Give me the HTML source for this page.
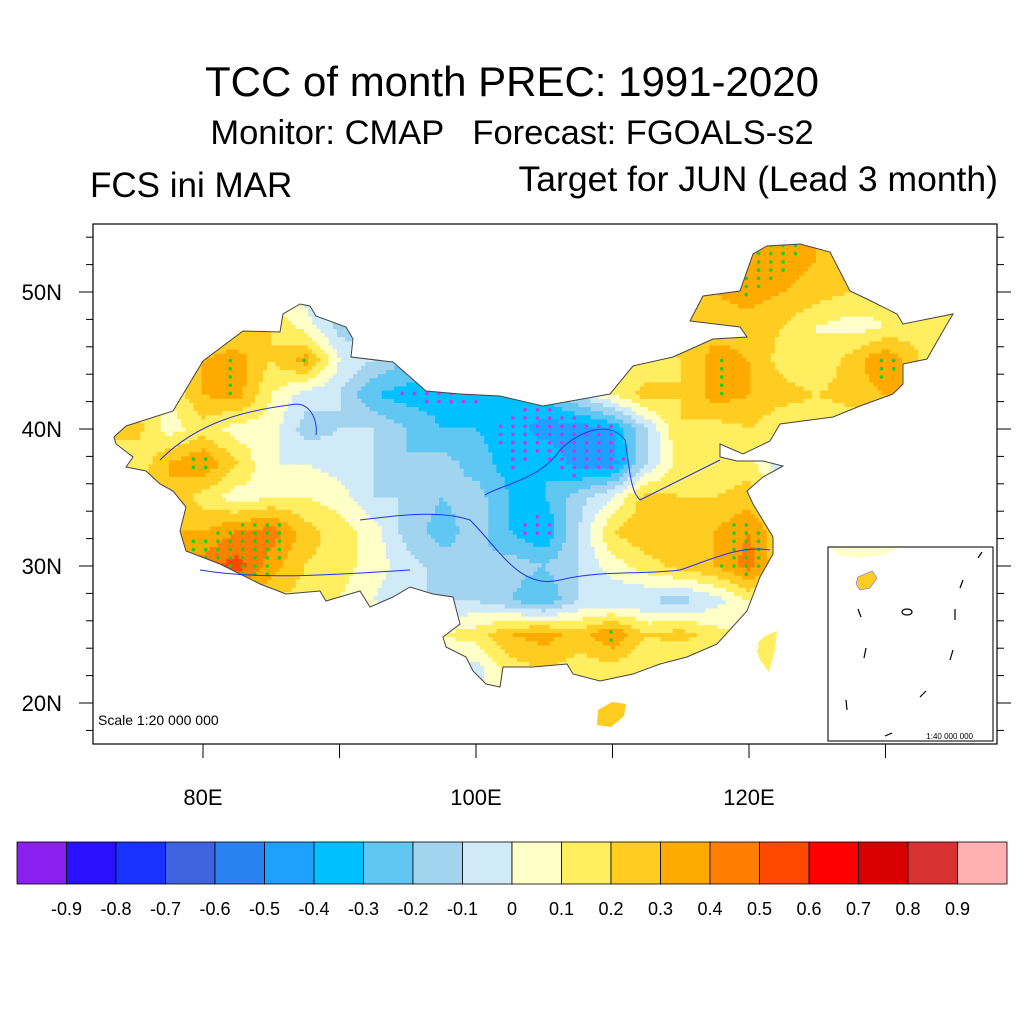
<!DOCTYPE html>
<html><head><meta charset="utf-8"><style>
body{margin:0;background:#fff;}
svg{display:block;font-family:"Liberation Sans",sans-serif;}
</style></head><body>
<svg id="chart" width="1024" height="1024" viewBox="0 0 1024 1024">
<rect width="1024" height="1024" fill="#fff"/>
<text x="512" y="96" font-size="42" text-anchor="middle">TCC of month PREC: 1991-2020</text>
<text x="512" y="144" font-size="34.5" text-anchor="middle" style="white-space:pre">Monitor: CMAP   Forecast: FGOALS-s2</text>
<text x="90" y="197" font-size="35">FCS ini MAR</text>
<text x="998" y="191" font-size="35.5" text-anchor="end">Target for JUN (Lead 3 month)</text>
<defs>
<clipPath id="china">
<polygon points="114,437 126,426 173,411 203,361 243,331 280,332 283,314 300,304 310,306 316,316 346,327 353,339 351,357 393,362 426,391 460,394 500,396 543,406 610,394 633,366 673,357 713,339 747,337 740,327 690,321 703,296 740,291 753,254 767,246 800,244 830,252 850,291 867,299 897,314 903,324 953,314 943,331 927,359 903,364 903,384 893,394 860,406 833,417 780,424 770,441 743,454 720,444 720,457 737,461 763,461 783,466 763,477 747,491 753,504 773,537 773,554 760,577 747,611 717,644 687,657 660,664 633,674 600,681 573,674 567,664 533,667 503,667 500,687 486,684 473,671 466,657 446,647 443,637 460,624 453,597 433,594 410,587 393,597 370,607 360,591 326,601 320,591 286,594 260,584 220,564 186,551 180,531 186,507 173,491 160,484 146,471 126,467 133,457 116,444"/>
<polygon points="765,636 777,631 775,650 769,672 760,660 755,645"/>
<polygon points="598,710 612,702 626,704 624,716 611,727 597,725"/>
</clipPath>
</defs>
<rect x="93" y="224" width="904" height="520" fill="none" stroke="#000" stroke-width="1.2"/>
<g id="field" clip-path="url(#china)"></g>
<g id="dots" clip-path="url(#china)"></g>
<g fill="none" stroke="#444" stroke-width="1">
<polygon points="114,437 126,426 173,411 203,361 243,331 280,332 283,314 300,304 310,306 316,316 346,327 353,339 351,357 393,362 426,391 460,394 500,396 543,406 610,394 633,366 673,357 713,339 747,337 740,327 690,321 703,296 740,291 753,254 767,246 800,244 830,252 850,291 867,299 897,314 903,324 953,314 943,331 927,359 903,364 903,384 893,394 860,406 833,417 780,424 770,441 743,454 720,444 720,457 737,461 763,461 783,466 763,477 747,491 753,504 773,537 773,554 760,577 747,611 717,644 687,657 660,664 633,674 600,681 573,674 567,664 533,667 503,667 500,687 486,684 473,671 466,657 446,647 443,637 460,624 453,597 433,594 410,587 393,597 370,607 360,591 326,601 320,591 286,594 260,584 220,564 186,551 180,531 186,507 173,491 160,484 146,471 126,467 133,457 116,444"/>
</g>
<g fill="none" stroke="#2233ee" stroke-width="1">
<path d="M160,460 C200,420 250,410 290,405 C310,400 318,420 316,435"/>
<path d="M485,495 C500,485 540,480 560,450 C580,430 610,420 625,440 C630,470 630,490 640,500 C680,480 700,470 720,460"/>
<path d="M360,520 C400,515 440,510 470,520 C500,550 520,590 560,580 C600,570 640,575 680,570 C710,560 740,545 770,550"/>
<path d="M200,570 C260,580 330,575 410,570"/>
</g>
<g id="axes"></g>
<text x="98" y="725" font-size="14">Scale 1:20 000 000</text>
<g>
<rect x="828" y="547" width="165" height="194" fill="#fff" stroke="#222" stroke-width="1.2"/>
<path d="M830,548 L900,548 L880,556 L860,558 L840,556 Z" fill="#ffffc8"/>
<path d="M858,577 L872,571 L877,578 L870,588 L860,590 L856,584 Z" fill="#ffcc22" stroke="#66f" stroke-width="0.6"/>
<g stroke="#000" stroke-width="1.2" fill="none">
<path d="M982,552 L978,558"/><path d="M963,580 L960,588"/><path d="M858,609 L861,617"/><path d="M955,609 L955,620"/>
<path d="M866,648 L864,658"/><path d="M953,650 L950,660"/><path d="M926,691 L920,697"/><path d="M846,700 L847,710"/><path d="M885,736 L892,733"/>
<ellipse cx="907" cy="612" rx="5" ry="3"/>
</g>
<text x="973" y="739" font-size="8" text-anchor="end">1:40 000 000</text>
</g>
<g id="cbar"></g>
</svg>
<script>
// ---- data ----
const lons = [75,77.5,80,82.5,85,87.5,90,92.5,95,97.5,100,102.5,105,107.5,110,112.5,115,117.5,120,122.5,125,127.5,130,132.5,135];
const lats = [52.5,50,47.5,45,42.5,40,37.5,35,32.5,30,27.5,25,22.5,20];
const row525 = [.2,.2,.2,.1,0,-.1,-.1,-.1,0,0,0,0,0,0,.2,.2,.25,.3,.4,.35,.3,.2,.2,.2,.2];
const row50  = [.2,.2,.2,.15,.05,-.05,-.1,-.1,0,0,0,0,0,0,.2,.25,.3,.3,.35,.3,.25,.2,.15,.15,.15];
const row475 = [.2,.2,.2,.2,.2,.05,-.15,-.15,0,0,0,0,0,0,.2,.25,.25,.25,.25,.2,.1,.05,.1,.15,.2];
const row45  = [.2,.25,.3,.35,.2,.35,0,-.1,-.2,-.2,-.1,0,0,0,.1,.1,.2,.35,.3,.15,.1,.25,.4,.2,.2];
const row425 = [.2,.1,.3,.35,.1,-.05,-.1,-.3,-.35,-.35,-.35,-.3,-.3,-.1,.1,.25,.2,.35,.3,.25,.2,.25,.3,.3,.3];
const row40  = [.25,.05,.15,.05,.05,-.15,-.1,-.1,-.2,-.3,-.3,-.35,-.45,-.45,-.4,-.1,.2,.15,.2,.1,.1,.1,.1,.1,.1];
const row375 = [.1,.3,.4,.2,0,0,-.05,-.1,-.2,-.15,-.25,-.35,-.3,-.45,-.45,-.1,.15,.1,.15,-.1,0,0,0,0,0];
const row35  = [.3,.3,.15,.05,.1,.1,.05,-.1,-.1,-.2,-.15,-.3,-.3,-.15,0,.25,.2,.2,.25,.1,0,0,0,0,0];
const row325 = [.3,.3,.3,.4,.45,.25,.15,.05,-.15,-.25,-.15,-.3,-.4,-.1,.2,.3,.25,.3,.4,.2,0,0,0,0,0];
const row30  = [.45,.45,.45,.55,.35,.2,.15,.05,-.05,-.15,-.2,-.15,-.2,-.1,.05,.15,.25,.3,.45,.2,0,0,0,0,0];
const row275 = [.3,.3,.3,.3,.2,.15,.1,0,-.1,-.1,-.1,-.2,-.3,-.1,-.1,-.1,-.15,-.05,.1,.1,0,0,0,0,0];
const row25  = [0,0,0,0,0,0,.1,.1,.1,.1,.15,.3,.35,.25,.4,.2,.25,.15,.05,.2,0,0,0,0,0];
const row225 = [0,0,0,0,0,0,0,0,0,0,-.05,.15,.2,.15,.15,.1,.05,.05,.1,.2,0,0,0,0,0];
const row20  = [0,0,0,0,0,0,0,0,0,0,0,.15,.2,.25,.25,.2,.1,.1,.1,.1,0,0,0,0,0];
const grid = [row525,row50,row475,row45,row425,row40,row375,row35,row325,row30,row275,row25,row225,row20];
const levels = [-0.9,-0.8,-0.7,-0.6,-0.5,-0.4,-0.3,-0.2,-0.1,0,0.1,0.2,0.3,0.4,0.5,0.6,0.7,0.8,0.9];
const levelLabels = ["-0.9","-0.8","-0.7","-0.6","-0.5","-0.4","-0.3","-0.2","-0.1","0","0.1","0.2","0.3","0.4","0.5","0.6","0.7","0.8","0.9"];
const colors = ["#8a1ff0","#2a10ff","#1a32ff","#4062e0","#2a82f0","#1ea0ff","#00c0ff","#60c6f2","#a2d4f0","#d0eaf8","#ffffc8","#ffee60","#ffcc22","#ffaa00","#ff8000","#ff4800","#ff0000","#d80000","#d83232","#ffb0b0"];
const latTicks = [20,30,40,50];
const latTickLabels = ["20N","30N","40N","50N"];
const lonTicks = [80,100,120];
const lonTickLabels = ["80E","100E","120E"];
// ---- axis functions ----
const NS="http://www.w3.org/2000/svg";
const xOf = lon => 203 + (lon-80)*13.65;
const yOf = lat => 292 - (lat-50)*13.7;
function valueAt(lon,lat){
  let fi=(lon-lons[0])/2.5, fj=(lats[0]-lat)/2.5;
  fi=Math.max(0,Math.min(lons.length-1.001,fi)); fj=Math.max(0,Math.min(lats.length-1.001,fj));
  const i=Math.floor(fi), j=Math.floor(fj), a=fi-i, b=fj-j;
  return grid[j][i]*(1-a)*(1-b)+grid[j][i+1]*a*(1-b)+grid[j+1][i]*(1-a)*b+grid[j+1][i+1]*a*b;
}
function colorOf(v){ let k=0; while(k<levels.length && v>=levels[k]) k++; return colors[k]; }
const field=document.getElementById('field');
const step=0.3;
for(let lat=54.5; lat>18; lat-=step){
  for(let lon=73; lon<136; lon+=step){
    const v=valueAt(lon+step/2,lat-step/2);
    const r=document.createElementNS(NS,'rect');
    
    
    const x0=xOf(lon), y0=yOf(lat);
    r.setAttribute('x',x0.toFixed(1)); r.setAttribute('y',y0.toFixed(1));
    r.setAttribute('width',(step*13.65+0.6).toFixed(1)); r.setAttribute('height',(step*13.7+0.6).toFixed(1));
    r.setAttribute('fill',colorOf(v));
    field.appendChild(r);
  }
}
const dots=document.getElementById('dots');
for(let lat=54; lat>18; lat-=0.6){
  for(let lon=73; lon<136; lon+=0.9){
    const v=valueAt(lon,lat);
    if(Math.abs(v)>=0.33){
      const c=document.createElementNS(NS,'circle');
      
      
      c.setAttribute('cx',xOf(lon).toFixed(1)); c.setAttribute('cy',yOf(lat).toFixed(1));
      c.setAttribute('r','1.8'); c.setAttribute('fill', v>0?'#22cc22':'#cc33ee');
      dots.appendChild(c);
    }
  }
}
const axes=document.getElementById('axes');
function line(x1,y1,x2,y2){const l=document.createElementNS(NS,'line');l.setAttribute('x1',x1);l.setAttribute('y1',y1);l.setAttribute('x2',x2);l.setAttribute('y2',y2);l.setAttribute('stroke','#000');l.setAttribute('stroke-width','1');axes.appendChild(l);return l;}
for(let lat=18; lat<=55; lat+=2){const y=yOf(lat); const major=lat%10===0; const len=major?14:7;
  const a=line(93,y,93-len,y);  
  const b=line(997,y,997+len,y);  }
for(let lon=80; lon<=130; lon+=10){const x=xOf(lon);
  const a=line(x,744,x,758);  }
latTicks.forEach((lat,i)=>{const t=document.createElementNS(NS,'text');
  
  
  t.setAttribute('x',62);t.setAttribute('y',yOf(lat)+8);t.setAttribute('font-size','22');t.setAttribute('text-anchor','end');t.textContent=latTickLabels[i];axes.appendChild(t);});
lonTicks.forEach((lon,i)=>{const t=document.createElementNS(NS,'text');
  
  
  t.setAttribute('x',xOf(lon));t.setAttribute('y',805);t.setAttribute('font-size','22');t.setAttribute('text-anchor','middle');t.textContent=lonTickLabels[i];axes.appendChild(t);});
const cbar=document.getElementById('cbar');
const bw=49.5;
colors.forEach((c,i)=>{const r=document.createElementNS(NS,'rect');
  
  
  r.setAttribute('x',17+i*bw);r.setAttribute('y',842);r.setAttribute('width',bw);r.setAttribute('height',42);r.setAttribute('fill',c);r.setAttribute('stroke','#000');r.setAttribute('stroke-width','0.8');cbar.appendChild(r);});
levelLabels.forEach((s,i)=>{const t=document.createElementNS(NS,'text');
  
  
  t.setAttribute('x',17+(i+1)*bw);t.setAttribute('y',915);t.setAttribute('font-size','18');t.setAttribute('text-anchor','middle');t.textContent=s;cbar.appendChild(t);});
</script>
</body></html>
